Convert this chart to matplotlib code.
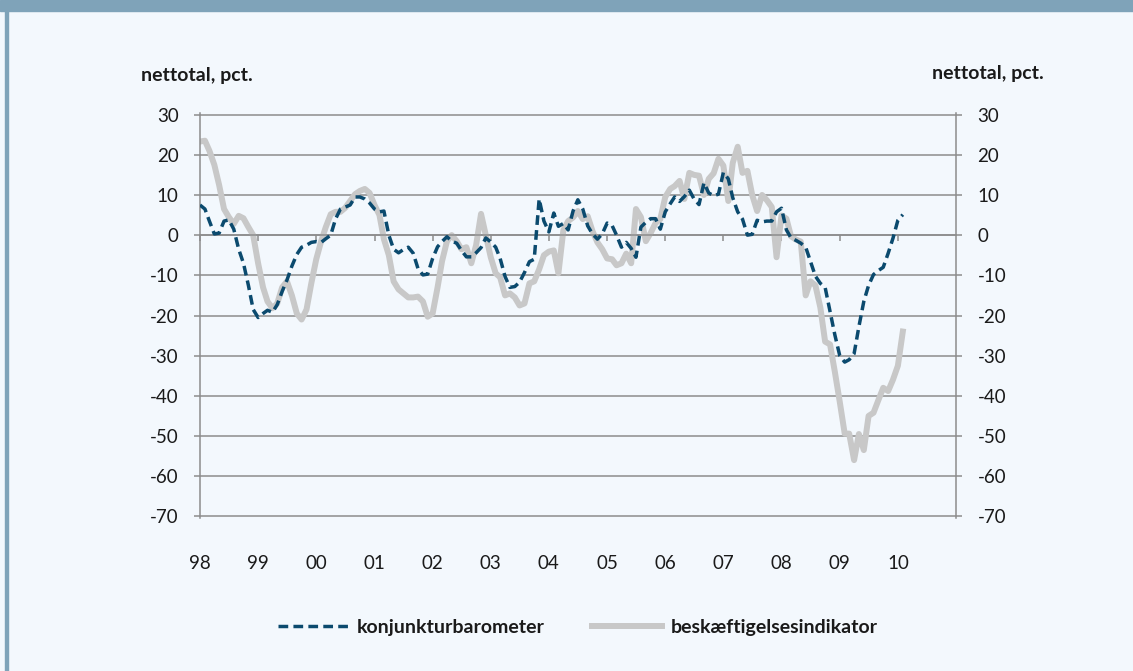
import matplotlib.pyplot as plt
import matplotlib.dates as mdates
import pandas as pd
from matplotlib.patches import Rectangle

# maanedlige observationer, jan 1998 - feb 2010
months = pd.date_range("1998-01-01", periods=146, freq="MS")

konjunktur = [
    7.5, 6.5, 3.5, 0.3, 0.5, 3.5, 3.8, 1.5, -3.5, -7, -12.5, -18.5,
    -20.5, -19.5, -18.7, -19.2, -17.3, -14, -11.2, -7.7, -4.8, -3, -2.5, -1.8,
    -1.6, -1.8, -0.9, 0, 4, 6.5, 7, 7.5, 9.5, 9.5, 9, 8,
    6.5, 5.8, 6, 0, -3.5, -4.4, -3.6, -3, -4.5, -8.3, -9.9, -9.7,
    -5.8, -2.9, -1.6, -0.4, -1.5, -2, -3.8, -5.4, -5.4, -4.4, -3.1, -0.7,
    -1.7, -3, -5.8, -10.3, -13, -12.8, -11.7, -9.3, -6.6, -6, 9, 3.5,
    0.8, 5.5, 2.2, 2.9, 1.3, 6, 8.8, 6.5, 2.3, 0.3, -1, 0.3,
    3, 2.4, 0, -3, -1.8, -3.3, -5.5, 2, 3.2, 4.1, 4.1, 1.5,
    5.8, 7.8, 9.5, 8.4, 9.6, 11.2, 9, 7.6, 13, 10.5, 9.8, 10.2,
    15.6, 14, 9.3, 5.8, 4, 0, 0.2, 3.7, 3.3, 3.5, 3.5, 5.8,
    6.7, 1.3, -0.7, -1.3, -2, -3, -6.5, -10.2, -12, -13, -19, -24.8,
    -30, -31.6, -31, -29.5, -22.8, -16.5, -12.5, -9.8, -8.8, -8, -4.5, -0.8,
    3.7, 5.1,
]

beskaeftigelse = [
    23.3, 23.5, 21, 17.5, 12.5, 6.5, 4.5, 2.8, 4.8, 4.2, 2, 0,
    -7, -13, -16.5, -18.2, -17, -13, -11.5, -15, -19.5, -21, -18.5, -12,
    -6, -1.5, 2, 5.2, 5.8, 5.8, 6.8, 8.5, 10.2, 11, 11.5, 10.5,
    7.5, 5, -1, -5, -11.5, -13.5, -14.5, -15.5, -15.5, -15.3, -16.5, -20.3,
    -19.5, -13, -6.5, -1.5, 0, -1.5, -3.5, -3, -7, -2.5, 5.3, 0,
    -5.5, -9.5, -10.5, -15, -14.5, -15.5, -17.5, -17, -12, -11.5, -8.5, -5,
    -4.1, -3.8, -9.5, 1.2, 3.5, 4.4, 6, 4, 4.7, 1, -1.8, -3.5,
    -5.8, -6, -7.5, -7, -4.6, -7, 6.5, 4.5, -1.5, 0.5, 3, 4,
    9.5, 11.5, 12.2, 13.5, 9, 15.5, 15, 14.8, 10, 14, 15.4, 19,
    17.3, 8.5, 18, 22, 15.5, 16, 10, 6, 10, 8.7, 7, -5.5,
    4.9, 4.1, -0.3, -1.1, -1.6, -15, -11.5, -12.5, -18, -26.5, -27.2, -34,
    -41.5, -49.4, -49.4, -56, -49.5, -53.5, -45, -44.2, -41, -38, -38.8, -36,
    -32.5, -24,
]

year_ticks = pd.date_range("1998-01-01", "2010-01-01", freq="YS")
y_ticks = list(range(-70, 31, 10))

BG = "#f3f8fd"
FRAME = "#7fa3b9"
GRID = "#8c8c8c"
BLUE = "#0b4a6e"
GREY = "#c8c8c8"
INK = "#1a1a1a"

plt.rcParams["font.family"] = ["Lato", "DejaVu Sans"]
plt.rcParams["axes.unicode_minus"] = False

fig = plt.figure(figsize=(11.33, 6.71), dpi=100, facecolor=BG)
fig.patches.append(Rectangle((0, 1 - 11 / 671), 1, 11 / 671, transform=fig.transFigure,
                             color=FRAME, zorder=0))
fig.patches.append(Rectangle((5 / 1133, 0), 3 / 1133, 1, transform=fig.transFigure,
                             color=FRAME, zorder=0))

ax = fig.add_axes([200 / 1133, 1 - 518 / 671, 756 / 1133, 405 / 671])
ax.set_facecolor(BG)

ax.plot(months, beskaeftigelse, color=GREY, lw=4.3, solid_joinstyle="round",
        label="beskæftigelsesindikator", zorder=2)
ax.plot(months, konjunktur, color=BLUE, lw=2.5, dashes=(2.8, 1.5),
        label="konjunkturbarometer", zorder=3)

ax.set_xlim(pd.Timestamp("1998-01-01"), pd.Timestamp("2011-01-01"))
ax.set_ylim(-70.4, 30.4)
ax.set_yticks(y_ticks)
ax.set_xticks(year_ticks)
ax.xaxis.set_major_formatter(mdates.DateFormatter("%y"))

ax.grid(axis="y", color=GRID, lw=1.1)
ax.set_axisbelow(True)
for side in ["left", "right"]:
    ax.spines[side].set_color(GRID)
    ax.spines[side].set_linewidth(1.1)
ax.spines["top"].set_visible(False)
ax.spines["bottom"].set_position(("data", 0))
ax.spines["bottom"].set_color(GRID)
ax.spines["bottom"].set_linewidth(1.1)

ax.tick_params(axis="y", which="both", left=True, right=True, labelleft=True,
               labelright=True, direction="out", length=4.5, width=1.1,
               color=GRID, labelsize=13.5, pad=11, labelcolor=INK)
ax.tick_params(axis="x", direction="out", length=4.5, width=1.1, color=GRID,
               labelsize=13.5, pad=226, labelcolor=INK)

fig.text(197 / 1133, 1 - 75 / 671, "nettotal, pct.", ha="center", va="center",
         fontsize=14, fontweight="bold", color=INK)
fig.text(988 / 1133, 1 - 73 / 671, "nettotal, pct.", ha="center", va="center",
         fontsize=14, fontweight="bold", color=INK)

handles, labels = ax.get_legend_handles_labels()
leg = fig.legend(handles[::-1], labels[::-1], loc="center", ncol=2,
                 bbox_to_anchor=(578 / 1133, 1 - 627 / 671), frameon=False,
                 handlelength=3.6, handletextpad=0.45, columnspacing=2.4,
                 prop={"weight": "bold", "size": 14})
for t in leg.get_texts():
    t.set_color(INK)

fig.savefig("out.png", dpi=100, facecolor=BG)
